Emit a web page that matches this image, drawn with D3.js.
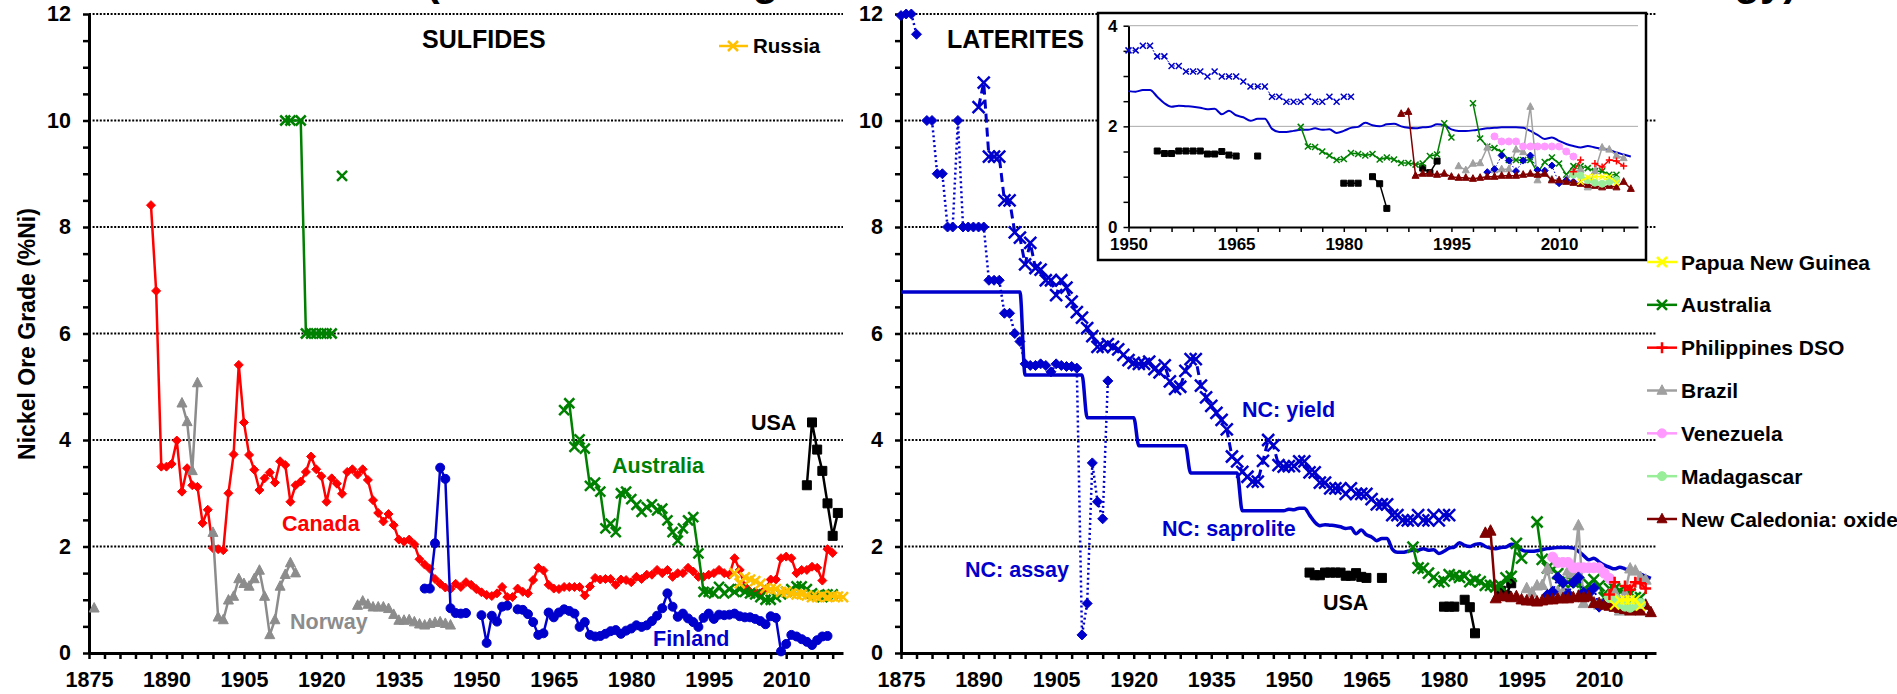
<!DOCTYPE html>
<html>
<head>
<meta charset="utf-8">
<script src="https://d3js.org/d3.v7.min.js"></script>
<style>
  body { margin: 0; background: #fff; }
  svg { font-family: "Liberation Sans", Arial, sans-serif; font-weight: bold; }
</style>
</head>
<body>
<svg id="chart" width="1897" height="694"></svg>
<script>
// ---------------- data : SULFIDES ----------------
const canadaYears = d3.range(1887, 2020);
const canadaVals = [
  8.41, 6.80, 3.50,
  3.50, 3.55, 3.99, 3.03, 3.47, 3.15, 3.12, 2.44, 2.69, 1.97,
  1.95, 1.93, 3.00, 3.73, 5.41, 4.33, 3.72, 3.44, 3.06, 3.28,
  3.39, 3.20, 3.60, 3.53, 2.84, 3.15, 3.22, 3.40, 3.69, 3.45,
  3.32, 2.84, 3.28, 3.18, 2.99, 3.40, 3.45, 3.35, 3.45, 3.25,
  2.87, 2.63, 2.47, 2.61, 2.40, 2.13, 2.09, 2.13, 2.04, 1.76,
  1.66, 1.58, 1.39, 1.30, 1.23, 1.20, 1.30, 1.24, 1.33, 1.28,
  1.20, 1.14, 1.09, 1.07, 1.12, 1.24, 1.05, 1.05, 1.21, 1.15,
  1.12, 1.37, 1.60, 1.55, 1.28, 1.21, 1.20, 1.24, 1.24, 1.24,
  1.24, 1.08, 1.25, 1.41, 1.38, 1.39, 1.39, 1.28, 1.38, 1.37,
  1.33, 1.43, 1.39, 1.47, 1.47, 1.56, 1.50, 1.56, 1.43, 1.50,
  1.50, 1.60, 1.53, 1.43, 1.43, 1.47, 1.50, 1.56, 1.50, 1.47,
  1.78, 1.56, 1.25, 1.15, 1.15, 1.12, 1.20, 1.38, 1.38, 1.78,
  1.81, 1.78, 1.50, 1.56, 1.56, 1.62, 1.60, 1.36, 1.95, 1.88
];

const norwayYears = [1876, 1877, 1893, 1894, 1895, 1896, 1897,
  1899, 1900, 1901, 1902, 1903, 1904, 1905, 1906, 1907, 1908, 1909, 1910, 1911, 1912, 1913, 1914, 1915, 1916,
  1927, 1928, 1929, 1930, 1931, 1932, 1933, 1934, 1935, 1936, 1937, 1938, 1939, 1940, 1941, 1942, 1943, 1944, 1945];
const norwayVals = [0.84, null, 4.69, 4.34, 3.42, 5.07, null,
  2.26, 0.67, 0.62, 0.99, 1.06, 1.39, 1.30, 1.25, 1.39, 1.55, 1.06, 0.34, 0.62, 1.25, 1.47, 1.69, 1.50, null,
  0.89, 0.97, 0.91, 0.86, 0.86, 0.86, 0.83, 0.72, 0.61, 0.61, 0.62, 0.58, 0.54, 0.52, 0.55, 0.57, 0.58, 0.55, 0.52];

const australiaSYears = [1913, 1914, 1916, 1917, 1918, 1919, 1920, 1921, 1922, 1923, 1924, 1925]
  .concat(d3.range(1967, 2020));
const australiaSVals = [10, 10, 10, 6, 6, 6, 6, 6, 6, null, 8.96, null,
  4.56, 4.69, 3.87, 4.01, 3.84, 3.14, 3.20, 3.03, 2.34, 2.43, 2.27, 3.00, 3.03,
  2.89, 2.78, 2.65, 2.74, 2.79, 2.68, 2.71, 2.49, 2.27, 2.11, 2.34, 2.49, 2.55, 1.87,
  1.15, 1.15, 1.12, 1.24, 1.12, 1.20,
  1.15, 1.20, 1.15, 1.12, 1.10, 1.05, 1.00, 1.00, 1.05, 1.10,
  1.15, 1.20, 1.25, 1.25, 1.20, 1.12, 1.08, 1.05, 1.10, 1.10];

const finlandYears = d3.range(1940, 2019);
const finlandVals = [
  1.21, 1.21, 2.06, 3.48, 3.27, 0.84, 0.75, 0.74, 0.75, null,
  null, 0.71, 0.19, 0.70, 0.59, 0.87, 0.89, null, 0.82, 0.81,
  0.73, 0.58, 0.34, 0.37, 0.76, 0.67, 0.76, 0.82, 0.79, 0.74,
  0.49, 0.58, 0.34, 0.31, 0.32, 0.36, 0.41, 0.43, 0.36, 0.42,
  0.46, 0.52, 0.49, 0.52, 0.60, 0.70, 0.84, 1.12, 0.87, 0.68,
  0.74, 0.65, 0.58, 0.49, 0.66, 0.74, 0.64, 0.72, 0.71, 0.72,
  0.74, 0.69, 0.67, 0.67, 0.64, 0.60, 0.54, 0.69, 0.66, 0.03,
  0.17, 0.34, 0.31, 0.26, 0.21, 0.15, 0.24, 0.31, 0.32
];

const usaSYears = d3.range(2014, 2021);
const usaSVals = [3.15, 4.33, 3.82, 3.42, 2.81, 2.20, 2.63];

const russiaYears = d3.range(2000, 2022);
const russiaVals = [1.50, 1.31, 1.42, 1.38, 1.35, 1.30, 1.22, 1.20, 1.20, 1.15, 1.15,
  1.12, 1.10, 1.10, 1.08, 1.05, 1.05, 1.08, 1.05, 1.07, 1.06, 1.05];

// ---------------- data : LATERITES ----------------
const ncAssayYears = d3.range(1875, 1916);
const ncAssayVals = [
  11.97, 12.0, 12.0, 11.62, null, 10.0, 10.0, 9.0, 9.0, 8.0,
  8.0, 10.0, 8.0, 8.0, 8.0, 8.0, 8.0, 7.0, 7.0, 7.0,
  6.38, 6.38, 6.0, 5.85, 5.43, 5.40, 5.40, 5.43, 5.40, 5.28,
  5.43, 5.40, 5.38, 5.38, 5.35, 0.34, 0.93, 3.57, 2.84, 2.52,
  5.11
];
const ncAssayLateYears = d3.range(2000, 2013);
const ncAssayLateVals = [1.09, 1.15, 1.42, 1.32, 1.11, 1.32, 1.42, 1.13, 1.12, 1.22, 0.87, 0.93, 0.90];

const ncYieldYears = d3.range(1890, 1982);
const ncYieldVals = [
  10.25, 10.71, 9.32, 9.32, 9.32, 8.50, 8.50, 7.90, 7.80, 7.30,
  7.70, 7.23, 7.20, 7.00, 7.00, 6.72, 7.00, 6.86, 6.60, 6.40,
  6.30, 6.10, 5.95, 5.75, 5.75, 5.80, 5.75, 5.70, 5.60, 5.50,
  5.45, 5.43, 5.43, 5.47, 5.33, 5.27, 5.40, 5.10, 4.96, 5.00,
  5.30, 5.52, 5.52, 5.02, 4.80, 4.64, 4.51, 4.38, 4.20, 3.69,
  3.60, 3.40, 3.31, 3.22, 3.22, 3.61, 4.00, 3.90, 3.53, 3.50,
  3.51, 3.51, 3.60, 3.60, 3.39, 3.39, 3.20, 3.20, 3.09, 3.09,
  3.09, 2.99, 3.09, 2.99, 2.99, 2.99, 2.89, 2.79, 2.79, 2.79,
  2.59, 2.59, 2.49, 2.49, 2.49, 2.59, 2.49, 2.49, 2.59, 2.49,
  2.59, 2.59
];

const ncSaproliteYears = d3.range(1875, 2021);
const ncSaproliteVals = [
  6.78, 6.78, 6.78, 6.78, 6.78, 6.78, 6.78, 6.78, 6.78, 6.78,
  6.78, 6.78, 6.78, 6.78, 6.78, 6.78, 6.78, 6.78, 6.78, 6.78,
  6.78, 6.78, 6.78, 6.78, 5.22, 5.22, 5.22, 5.22, 5.22, 5.22,
  5.22, 5.22, 5.22, 5.22, 5.22, 5.22, 4.42, 4.42, 4.42, 4.42,
  4.42, 4.42, 4.42, 4.42, 4.42, 4.42, 3.89, 3.89, 3.89, 3.89,
  3.89, 3.89, 3.89, 3.89, 3.89, 3.89, 3.38, 3.38, 3.38, 3.38,
  3.38, 3.38, 3.38, 3.38, 3.38, 3.38, 2.67, 2.67, 2.67, 2.67,
  2.67, 2.67, 2.67, 2.67, 2.67,
  2.70, 2.69, 2.72, 2.72, 2.59, 2.46, 2.39, 2.41, 2.40, 2.39,
  2.37, 2.34, 2.35, 2.24, 2.31, 2.22, 2.18, 2.11, 2.15, 2.15,
  1.95, 1.89, 1.89, 1.91, 1.93, 1.93, 1.96, 1.93, 1.94, 1.87,
  1.91, 1.97, 1.99, 2.07, 2.02, 2.00, 2.04, 2.05, 2.00, 1.97,
  1.96, 1.98, 1.99, 2.04, 2.02, 1.94, 1.91, 1.91, 1.92, 1.94,
  1.96, 1.97, 1.98, 1.98, 1.98, 1.97, 1.91, 1.83, 1.75, 1.78,
  1.71, 1.65, 1.61, 1.58, 1.61, 1.58, 1.55, 1.53, 1.48, 1.44,
  1.40
];

const usaLYears = [1954, 1955, 1956, 1957, 1958, 1959, 1960, 1961, 1962, 1963, 1964, 1965, 1966,
  1968, 1969, 1980, 1981, 1982, 1983, 1984, 1985, 1986, 1987, 1991, 1992, 1993];
const usaLVals = [1.51, 1.46, 1.46, 1.51, 1.51, 1.51, 1.51, 1.45, 1.45, 1.50, 1.43, 1.41, null,
  1.41, null, 0.87, 0.87, 0.87, null, 1.00, 0.86, 0.37, null, 1.17, 1.08, 1.31];

const australiaLYears = d3.range(1974, 2019);
const australiaLVals = [
  1.99, 1.60, 1.59, 1.50, 1.42, 1.33,
  1.35, 1.47, 1.45, 1.42, 1.45, 1.34, 1.38, 1.34, 1.27, 1.27,
  1.24, 1.26, 1.41, 1.44, 2.06, 1.78, null, null, 2.46, 1.76,
  1.60, 1.57, 1.49, 1.33, 1.33, 1.33, 1.33, 1.08, 1.29, 1.38,
  1.26, 1.04, 1.21, 1.21, 1.17, 1.11, 1.11, 1.04, 1.04
];

const ncOxideYears = d3.range(1988, 2021);
const ncOxideVals = [2.25, 2.29,
  1.02, 1.06, 1.06, 1.04, 1.06, 1.00, 0.98, 0.98, 0.96, 0.98,
  1.00, 1.00, 1.02, 1.02, 1.02, 1.04, 1.06, 1.04, 1.06, 0.93,
  0.93, 0.90, 0.88, 0.86, 0.84, 0.82, 0.79, 0.82, 0.79, 0.90,
  0.76];

const brazilYears = d3.range(1996, 2020);
const brazilVals = [1.21, 1.13, 1.26, 1.27, 1.58, 1.13, 1.15, 1.15, 1.54, 1.49, 2.39, 0.93, 1.08,
  0.95, 0.90, 0.95, 1.10, 1.14, 0.79, 1.11, 1.58, 1.54, 1.42, 1.37];

const venezuelaYears = d3.range(2001, 2013);
const venezuelaVals = [1.80, 1.70, 1.70, 1.70, 1.60, 1.60, 1.60, 1.60, 1.60, 1.60, 1.50, 1.40];

const madagascarYears = d3.range(2012, 2019);
const madagascarVals = [1.04, 1.02, 0.93, 0.88, 0.86, 0.90, 0.93];

const pngYears = d3.range(2013, 2019);
const pngVals = [0.90, 0.99, 1.00, 1.00, 1.00, 0.88];

const philippinesYears = [2012, 2013, 2014, 2015, 2016, 2017, 2018, 2019];
const philippinesVals = [1.10, 1.33, null, 1.26, 1.19, 1.33, 1.31, 1.21];

const legendNames = ["Papua New Guinea", "Australia", "Philippines DSO", "Brazil",
  "Venezuela", "Madagascar", "New Caledonia: oxide"];

// ---------------- layout ----------------
const svg = d3.select("#chart");
const xL = d3.scaleLinear().domain([1875, 2021]).range([89, 843]);
const xR = d3.scaleLinear().domain([1875, 2021]).range([901, 1656]);
const y = d3.scaleLinear().domain([0, 12]).range([653, 14]);
const xI = d3.scaleLinear().domain([1950, 2021]).range([1128.5, 1638]);
const yI = d3.scaleLinear().domain([0, 4]).range([227, 25.7]);

const C = {
  red: "#ff0000", green: "#008000", blue: "#0000cc", gray: "#8c8c8c", black: "#000000",
  gold: "#ffc000", pink: "#ff99ff", lgreen: "#99ee99", yellow: "#ffff00", dred: "#800000"
};

function markerPath(type, r) {
  switch (type) {
    case "diamond": return `M0,${-r}L${r},0L0,${r}L${-r},0Z`;
    case "square": return `M${-r},${-r}H${r}V${r}H${-r}Z`;
    case "triangle": return `M0,${-r * 1.15}L${r},${r * 0.75}L${-r},${r * 0.75}Z`;
    case "circle": return `M${r},0A${r},${r} 0 1,1 ${-r},0A${r},${r} 0 1,1 ${r},0Z`;
    case "x": return `M${-r},${-r}L${r},${r}M${-r},${r}L${r},${-r}`;
    case "plus": return `M${-r},0H${r}M0,${-r}V${r}`;
  }
}
const strokeMarkers = new Set(["x", "plus"]);

function drawSeries(g, xs, ys, years, vals, st, minYear) {
  const pts = years.map((yr, i) => [yr, vals[i]]).filter(d => d[0] >= (minYear || 0));
  const line = d3.line().defined(d => d[1] != null).x(d => xs(d[0])).y(d => ys(d[1]));
  if (st.curve) line.curve(st.curve);
  if (st.lw > 0) {
    g.append("path").attr("d", line(pts)).attr("fill", "none")
      .attr("stroke", st.color).attr("stroke-width", st.lw)
      .attr("stroke-dasharray", st.dash || null)
      .attr("stroke-linejoin", "round");
  }
  if (st.marker) {
    const sm = strokeMarkers.has(st.marker);
    g.selectAll(null).data(pts.filter(d => d[1] != null)).join("path")
      .attr("transform", d => `translate(${xs(d[0])},${ys(d[1])})`)
      .attr("d", markerPath(st.marker, st.r))
      .attr("fill", sm ? "none" : st.color)
      .attr("stroke", st.color)
      .attr("stroke-width", sm ? st.mw : 1);
  }
}

function drawFrame(xs) {
  const g = svg.append("g");
  // dotted grid lines
  g.selectAll(null).data([2, 4, 6, 8, 10, 12]).join("line")
    .attr("x1", xs.range()[0]).attr("x2", xs.range()[1])
    .attr("y1", d => y(d)).attr("y2", d => y(d))
    .attr("stroke", "#000").attr("stroke-width", 2).attr("stroke-dasharray", "2,1.6");
  const ax = g.append("g").attr("transform", `translate(0,${y(0)})`)
    .call(d3.axisBottom(xs).tickValues(d3.range(1875, 2022, 3))
      .tickFormat(d => (d - 1875) % 15 === 0 ? d : "").tickSize(6).tickSizeOuter(0).tickPadding(13));
  const ay = g.append("g").attr("transform", `translate(${xs.range()[0]},0)`)
    .call(d3.axisLeft(y).tickValues(d3.range(0, 12.01, 0.5))
      .tickFormat(d => d % 2 === 0 ? d : "").tickSize(6).tickSizeOuter(0).tickPadding(12));
  [ax, ay].forEach(a => {
    a.select(".domain").attr("stroke-width", 3);
    a.selectAll(".tick line").attr("stroke-width", 2.5);
    a.selectAll("text").attr("font-size", 21.5).attr("font-weight", "bold")
      .attr("font-family", "Liberation Sans, Arial, sans-serif").attr("fill", "#000");
  });
  return g;
}

function label(txt, x0, yb, color, size, anchor) {
  svg.append("text").attr("x", x0).attr("y", yb).attr("fill", color)
    .attr("font-size", size).attr("text-anchor", anchor || "start").text(txt);
}

// clipped title (only descenders visible)
label("Nickel Ore Grades (Historical Mining Trends for Sulfides and Laterites with Technology)",
  50, -5, "#000", 42);

// ---------------- SULFIDES panel ----------------
drawFrame(xL);
const gS = svg.append("g");
drawSeries(gS, xL, y, canadaYears, canadaVals, { color: C.red, lw: 2.5, marker: "diamond", r: 4.5 });
drawSeries(gS, xL, y, norwayYears, norwayVals, { color: C.gray, lw: 2.5, marker: "triangle", r: 5 });
drawSeries(gS, xL, y, finlandYears, finlandVals, { color: C.blue, lw: 2.5, marker: "circle", r: 4.5 });
drawSeries(gS, xL, y, australiaSYears, australiaSVals, { color: C.green, lw: 2.5, marker: "x", r: 5, mw: 2.5 });
drawSeries(gS, xL, y, usaSYears, usaSVals, { color: C.black, lw: 2.5, marker: "square", r: 4.5 });
drawSeries(gS, xL, y, russiaYears, russiaVals, { color: C.gold, lw: 2.5, marker: "x", r: 5, mw: 2.5 });

svg.append("text").attr("x", 27).attr("y", 334).attr("transform", "rotate(-90,27,334)")
  .attr("text-anchor", "middle").attr("dy", "0.35em").attr("font-size", 23).text("Nickel Ore Grade (%Ni)");

label("SULFIDES", 422, 48, "#000", 25);
svg.append("line").attr("x1", 719).attr("x2", 748).attr("y1", 46).attr("y2", 46)
  .attr("stroke", C.gold).attr("stroke-width", 2.5);
svg.append("path").attr("transform", "translate(733,46)").attr("d", markerPath("x", 5))
  .attr("stroke", C.gold).attr("stroke-width", 2.5).attr("fill", "none");
label("Russia", 753, 53, "#000", 20.5);
label("Canada", 282, 531, C.red, 21.5);
label("Norway", 290, 629, C.gray, 21.5);
label("Australia", 612, 473, C.green, 21.5);
label("Finland", 653, 646, C.blue, 21.5);
label("USA", 751, 430, "#000", 21.5);

// ---------------- LATERITES panel ----------------
drawFrame(xR);
const gL = svg.append("g");
drawSeries(gL, xR, y, ncSaproliteYears, ncSaproliteVals, { color: C.blue, lw: 3.5, curve: d3.curveMonotoneX });
drawSeries(gL, xR, y, ncYieldYears, ncYieldVals, { color: C.blue, lw: 3, dash: "9,5", marker: "x", r: 6, mw: 2.5 });
drawSeries(gL, xR, y, ncAssayYears, ncAssayVals, { color: C.blue, lw: 2.5, dash: "2,3", marker: "diamond", r: 5 });
drawSeries(gL, xR, y, usaLYears, usaLVals, { color: C.black, lw: 2.5, marker: "square", r: 4.5 });
drawSeries(gL, xR, y, australiaLYears, australiaLVals, { color: C.green, lw: 2.5, marker: "x", r: 5.5, mw: 2.5 });
drawSeries(gL, xR, y, brazilYears, brazilVals, { color: "#a0a0a0", lw: 2.5, marker: "triangle", r: 5.5 });
drawSeries(gL, xR, y, venezuelaYears, venezuelaVals, { color: C.pink, lw: 2.5, marker: "circle", r: 5 });
drawSeries(gL, xR, y, ncAssayLateYears, ncAssayLateVals, { color: C.blue, lw: 2, dash: "2,3", marker: "diamond", r: 5.5 });
drawSeries(gL, xR, y, ncOxideYears, ncOxideVals, { color: C.dred, lw: 2.5, marker: "triangle", r: 5.5 });
drawSeries(gL, xR, y, madagascarYears, madagascarVals, { color: C.lgreen, lw: 2.5, marker: "circle", r: 5 });
drawSeries(gL, xR, y, pngYears, pngVals, { color: C.yellow, lw: 2.5, marker: "x", r: 4.5, mw: 2 });
drawSeries(gL, xR, y, philippinesYears, philippinesVals, { color: C.red, lw: 2.5, marker: "plus", r: 5.5, mw: 2.5 });

label("LATERITES", 947, 48, "#000", 25);
label("NC: yield", 1242, 417, C.blue, 21.5);
label("NC: saprolite", 1162, 536, C.blue, 21.5);
label("NC: assay", 965, 577, C.blue, 21.5);
label("USA", 1323, 610, "#000", 21.5);

// legend
const legStyles = [
  { color: C.yellow, marker: "x", r: 5, mw: 2.5 },
  { color: C.green, marker: "x", r: 5, mw: 2.5 },
  { color: C.red, marker: "plus", r: 5.5, mw: 2.5 },
  { color: "#a0a0a0", marker: "triangle", r: 5 },
  { color: C.pink, marker: "circle", r: 4.5 },
  { color: C.lgreen, marker: "circle", r: 4.5 },
  { color: C.dred, marker: "triangle", r: 5 }
];
const legY = d3.scalePoint().domain(legendNames).range([262, 519]);
legendNames.forEach((name, i) => {
  const st = legStyles[i];
  const yy = legY(name);
  svg.append("line").attr("x1", 1647).attr("x2", 1677).attr("y1", yy).attr("y2", yy)
    .attr("stroke", st.color).attr("stroke-width", 2.5);
  const sm = strokeMarkers.has(st.marker);
  svg.append("path").attr("transform", `translate(1662,${yy})`).attr("d", markerPath(st.marker, st.r))
    .attr("fill", sm ? "none" : st.color).attr("stroke", st.color).attr("stroke-width", sm ? st.mw : 1);
  label(name, 1681, yy + 7.5, "#000", 21);
});

// ---------------- inset ----------------
const gI = svg.append("g");
gI.append("rect").attr("x", 1098).attr("y", 13).attr("width", 548).attr("height", 247)
  .attr("fill", "#fff").attr("stroke", "#000").attr("stroke-width", 2.5);
gI.selectAll(null).data([2, 4]).join("line")
  .attr("x1", xI.range()[0]).attr("x2", xI.range()[1]).attr("y1", d => yI(d)).attr("y2", d => yI(d))
  .attr("stroke", "#555").attr("stroke-width", 1).attr("stroke-dasharray", "1,1");
const iax = gI.append("g").attr("transform", `translate(0,${yI(0)})`)
  .call(d3.axisBottom(xI).tickValues(d3.range(1950, 2022, 3))
    .tickFormat(d => (d - 1950) % 15 === 0 ? d : "").tickSize(5).tickSizeOuter(0).tickPadding(6));
const iay = gI.append("g").attr("transform", `translate(${xI.range()[0]},0)`)
  .call(d3.axisLeft(yI).tickValues(d3.range(0, 4.01, 0.5))
    .tickFormat(d => d % 2 === 0 ? d : "").tickSize(5).tickSizeOuter(0).tickPadding(6));
[iax, iay].forEach(a => {
  a.select(".domain").attr("stroke-width", 2);
  a.selectAll(".tick line").attr("stroke-width", 1.5);
  a.selectAll("text").attr("font-size", 17).attr("font-weight", "bold")
    .attr("font-family", "Liberation Sans, Arial, sans-serif").attr("fill", "#000");
});
drawSeries(gI, xI, yI, ncSaproliteYears, ncSaproliteVals, { color: C.blue, lw: 2, curve: d3.curveMonotoneX }, 1950);
drawSeries(gI, xI, yI, ncYieldYears, ncYieldVals, { color: C.blue, lw: 1, dash: "2,2", marker: "x", r: 3, mw: 1.5 }, 1950);
drawSeries(gI, xI, yI, usaLYears, usaLVals, { color: C.black, lw: 1.5, marker: "square", r: 3 }, 1950);
drawSeries(gI, xI, yI, australiaLYears, australiaLVals, { color: C.green, lw: 1.5, marker: "x", r: 3, mw: 1.5 }, 1950);
drawSeries(gI, xI, yI, brazilYears, brazilVals, { color: "#a0a0a0", lw: 1.5, marker: "triangle", r: 3.5 }, 1950);
drawSeries(gI, xI, yI, venezuelaYears, venezuelaVals, { color: C.pink, lw: 1.5, marker: "circle", r: 3.5 }, 1950);
drawSeries(gI, xI, yI, ncAssayLateYears, ncAssayLateVals, { color: C.blue, lw: 1, dash: "1.5,2", marker: "diamond", r: 3.5 }, 1950);
drawSeries(gI, xI, yI, ncOxideYears, ncOxideVals, { color: C.dred, lw: 1.5, marker: "triangle", r: 3.5 }, 1950);
drawSeries(gI, xI, yI, madagascarYears, madagascarVals, { color: C.lgreen, lw: 1.5, marker: "circle", r: 3.5 }, 1950);
drawSeries(gI, xI, yI, pngYears, pngVals, { color: C.yellow, lw: 1.5, marker: "x", r: 3, mw: 1.5 }, 1950);
drawSeries(gI, xI, yI, philippinesYears, philippinesVals, { color: C.red, lw: 1.5, marker: "plus", r: 3.5, mw: 1.5 }, 1950);
</script>
</body>
</html>
